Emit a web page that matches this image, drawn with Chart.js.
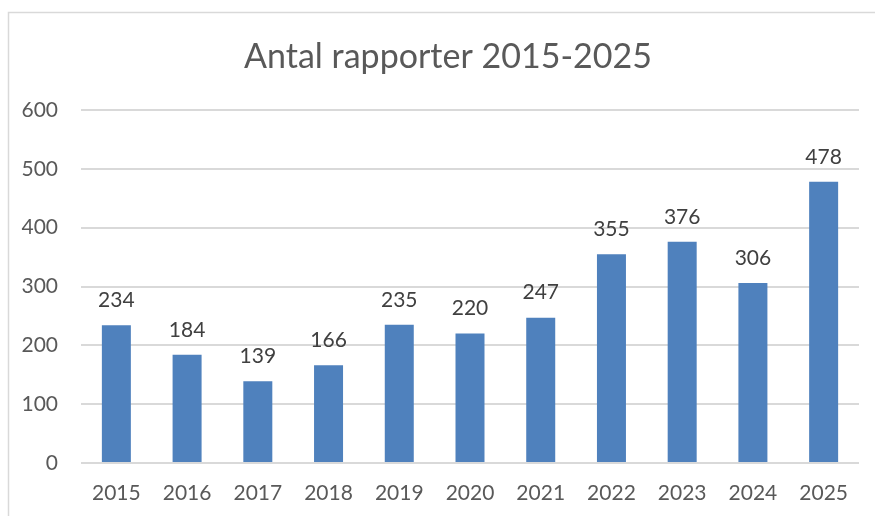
<!DOCTYPE html>
<html>
<head>
<meta charset="utf-8">
<script src="https://cdn.jsdelivr.net/npm/chart.js@4"></script>
<style>
  html, body { margin: 0; padding: 0; background: #ffffff; }
  #wrap { width: 875px; height: 516px; position: relative; }
</style>
</head>
<body>
<div id="wrap"><canvas id="myChart" width="875" height="516"></canvas></div>
<script>
const years = ['2015', '2016', '2017', '2018', '2019', '2020', '2021', '2022', '2023', '2024', '2025'];
const reports = [234, 184, 139, 166, 235, 220, 247, 355, 376, 306, 478];
const yTicks = [0, 100, 200, 300, 400, 500, 600];
const titleText = 'Antal rapporter 2015-2025';

const fontName = 'Lato';
const textGray = '#595959';

// frame around the whole chart and the title (the office box is wider than the plot)
const framePlugin = {
    id: 'frame',
    beforeDraw(chart) {
        const ctx = chart.ctx;
        ctx.save();
        ctx.strokeStyle = '#d9d9d9';
        ctx.lineWidth = 1.5;
        ctx.strokeRect(8.5, 12.5, chart.width + 20, chart.height + 20);
        ctx.font = '34px ' + fontName;
        ctx.fillStyle = textGray;
        ctx.textAlign = 'center';
        ctx.textBaseline = 'middle';
        ctx.fillText(titleText, 448, 57);
        ctx.restore();
    }
};

// numbers above the bars
const valuePlugin = {
    id: 'values',
    afterDatasetsDraw(chart) {
        const ctx = chart.ctx;
        const meta = chart.getDatasetMeta(0);
        ctx.save();
        ctx.font = '21px ' + fontName;
        ctx.fillStyle = '#404040';
        ctx.textAlign = 'center';
        ctx.textBaseline = 'middle';
        meta.data.forEach((bar, i) => {
            ctx.fillText(String(reports[i]), bar.x, bar.y - 25);
        });
        ctx.restore();
    }
};

const chart = document.querySelector('#myChart');
const myChart = new Chart(chart, {
    type: 'bar',
    data: {
        labels: years,
        datasets: [{
            label: 'Antal rapporter',
            data: reports,
            backgroundColor: '#4f81bd',
            borderWidth: 0,
            barPercentage: 0.41,
            categoryPercentage: 1
        }]
    },
    options: {
        responsive: false,
        animation: false,
        layout: { padding: { left: 0, right: 16, top: 110, bottom: 0 } },
        plugins: {
            legend: { display: false },
            tooltip: { enabled: false },
            title: { display: false }
        },
        scales: {
            x: {
                grid: { display: false, drawTicks: false },
                border: { display: false },
                ticks: {
                    color: textGray,
                    font: { family: fontName, size: 21 },
                    padding: 18,
                    maxRotation: 0
                },
                afterFit(scale) { scale.height = 53; }
            },
            y: {
                min: 0,
                max: 600,
                afterBuildTicks(scale) { scale.ticks = yTicks.map(v => ({ value: v })); },
                grid: { color: '#d9d9d9', lineWidth: 2, drawTicks: false },
                border: { display: false },
                ticks: {
                    color: textGray,
                    font: { family: fontName, size: 21 },
                    padding: 23
                },
                afterFit(scale) { scale.width = 81; }
            }
        }
    },
    plugins: [framePlugin, valuePlugin]
});
</script>
</body>
</html>
